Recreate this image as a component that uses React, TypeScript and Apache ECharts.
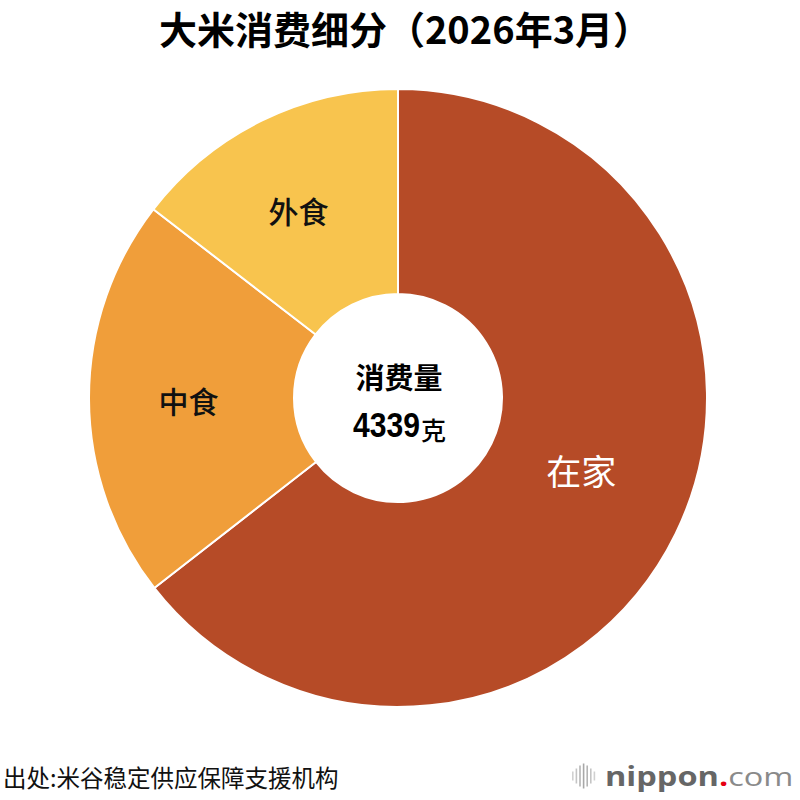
import React, { useEffect, useRef } from "react";
import * as echarts from "echarts";

const titleText = "大米消费细分（2026年3月）";
const categories = ["在家", "中食", "外食"];
const grams = [2797, 911, 631];
const totalLabel = "4339";
const totalUnit = "克";
const centerTitle = "消费量";
const sourceText = "出处:米谷稳定供应保障支援机构";
const colors = ["#B64B27", "#F09E3A", "#F8C44E"];

const CJK = "'Noto Sans CJK SC', 'Noto Sans CJK JP', sans-serif";

export default function App() {
  const ref = useRef<HTMLDivElement>(null);
  useEffect(() => {
    if (!ref.current) return;
    const chart = echarts.init(ref.current, null, { renderer: "svg" });
    const data = categories.map((name, i) => ({
      name,
      value: grams[i],
      itemStyle: { color: colors[i] },
      label:
        i === 0
          ? { color: "#ffffff", fontSize: 35, fontWeight: "normal" as const, offset: [-5, -20] }
          : i === 1
          ? { color: "#111111", fontSize: 30, fontWeight: 500 as any, offset: [0, 1] }
          : { color: "#111111", fontSize: 30, fontWeight: 500 as any, offset: [-7, 0] },
    }));
    const bars = [
      { dx: 0, h: 9, c: "#d0d0d0" },
      { dx: 3.6, h: 15, c: "#c4c4c4" },
      { dx: 7.2, h: 21, c: "#b4b4b4" },
      { dx: 10.8, h: 25, c: "#a8a8a8" },
      { dx: 14.4, h: 21, c: "#b4b4b4" },
      { dx: 18, h: 15, c: "#c4c4c4" },
      { dx: 21.6, h: 9, c: "#d0d0d0" },
    ];
    chart.setOption({
      animation: false,
      backgroundColor: "#ffffff",
      series: [
        {
          type: "pie",
          center: [398, 398],
          radius: [104, 309],
          startAngle: 90,
          clockwise: true,
          avoidLabelOverlap: false,
          silent: true,
          itemStyle: { borderColor: "#ffffff", borderWidth: 2 },
          label: {
            show: true,
            position: "inside",
            formatter: "{b}",
            fontFamily: CJK,
          },
          labelLine: { show: false },
          emphasis: { disabled: true },
          data,
        },
      ],
      graphic: [
        {
          type: "text",
          x: 405,
          y: 27,
          style: {
            text: titleText,
            fontFamily: CJK,
            fontWeight: "bold",
            fontSize: 38,
            fill: "#000000",
            align: "center",
            verticalAlign: "middle",
          },
        },
        {
          type: "text",
          x: 399,
          y: 376,
          style: {
            text: centerTitle,
            fontFamily: CJK,
            fontWeight: "bold",
            fontSize: 29,
            fill: "#000000",
            align: "center",
            verticalAlign: "middle",
          },
        },
        {
          type: "text",
          x: 420,
          y: 425,
          scaleX: 0.86,
          style: {
            text: totalLabel,
            fontFamily: "'Liberation Sans', Arial, sans-serif",
            fontWeight: "bold",
            fontSize: 35,
            fill: "#000000",
            align: "right",
            verticalAlign: "middle",
          },
        },
        {
          type: "text",
          x: 421,
          y: 429,
          style: {
            text: totalUnit,
            fontFamily: CJK,
            fontWeight: 500,
            fontSize: 25,
            fill: "#000000",
            align: "left",
            verticalAlign: "middle",
          },
        },
        {
          type: "text",
          x: 3,
          y: 777,
          style: {
            text: sourceText,
            fontFamily: CJK,
            fontSize: 23.5,
            fill: "#111111",
            align: "left",
            verticalAlign: "middle",
          },
        },
        ...bars.map((b) => ({
          type: "rect",
          shape: { x: 572 + b.dx, y: 776 - b.h / 2, width: 1.6, height: b.h },
          style: { fill: b.c },
        })),
        {
          type: "text",
          x: 605,
          y: 776,
          scaleX: 1.25,
          style: {
            text: "{a|nippon}{b|.}{c|com}",
            verticalAlign: "middle",
            align: "left",
            rich: {
              a: { fontFamily: "'Open Sans', sans-serif", fontWeight: "bold", fontSize: 26, fill: "#666666" },
              b: { fontFamily: "'Open Sans', sans-serif", fontWeight: "bold", fontSize: 26, fill: "#e60012" },
              c: { fontFamily: "'Open Sans', sans-serif", fontWeight: "normal", fontSize: 26, fill: "#8a8a8a" },
            },
          },
        },
      ],
    });
    return () => chart.dispose();
  }, []);
  return (
    <div
      ref={ref}
      style={{ position: "fixed", left: 0, top: 0, width: 800, height: 800, background: "#fff" }}
    />
  );
}
